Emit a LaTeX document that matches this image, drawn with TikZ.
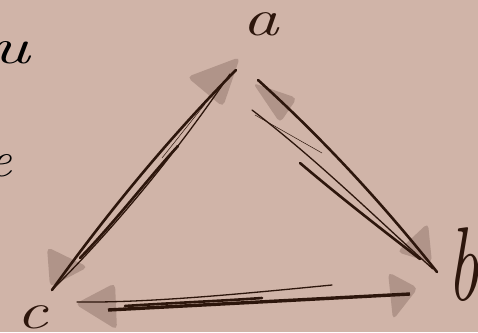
\documentclass[tikz,border=0pt]{standalone}
\usepackage{fontspec}
\usetikzlibrary{calc}
\definecolor{bgcol}{RGB}{208,180,168}
\definecolor{inkcol}{RGB}{45,22,12}
\definecolor{headcol}{RGB}{176,148,137}
\tikzset{
  ink/.style={draw=inkcol, line cap=round, line join=round},
  thick ink/.style={ink, line width=2.6pt},
  thin ink/.style={ink, line width=1.3pt},
  hair ink/.style={ink, line width=0.5pt},
  headshape/.style={fill=headcol, draw=none, rounded corners=5pt},
  letter/.style={text=inkcol, inner sep=0pt, anchor=base, font=\fontsize{52}{52}\selectfont\itshape},
  sideletter/.style={text=black, inner sep=0pt, anchor=base, font=\fontsize{50}{50}\selectfont\itshape}
}
\begin{document}
\begin{tikzpicture}[x=1pt, y=-1pt]
  \fill[bgcol] (0,0) rectangle (478,332);
  \useasboundingbox (0,0) rectangle (478,332);
  \clip (0,0) rectangle (478,332);

  % labels
  \node[letter, xscale=1.4] (a) at (261,35) {a};
  \node[letter, font=\fontsize{70}{70}\selectfont\itshape, yscale=1.5] (b) at (463,300) {b};
  \node[letter, xscale=1.35] (c) at (32,328) {c};
  \node[sideletter, xscale=1.5] (u) at (10,63) {u};
  \node[sideletter] (e) at (1,176) {e};

  % end points of the strokes
  \coordinate (ca-c) at (52,290);
  \coordinate (ca-a) at (236,70);
  \coordinate (ab-a) at (258,80);
  \coordinate (ab-b) at (437,272);
  \coordinate (cb-c) at (77,302);
  \coordinate (cb-b) at (410,294);

  % arrow heads (shaded)
  \path[headshape] (187,77) -- (240,57) -- (223,107) -- cycle;
  \path[headshape] (47,247) -- (88,267) -- (50,287) -- cycle;
  \path[headshape] (253,83) -- (297,98) -- (280,123) -- cycle;
  \path[headshape] (428,223) -- (432,263) -- (397,252) -- cycle;
  \path[headshape] (115,283) -- (117,330) -- (75,304) -- cycle;
  \path[headshape] (388,272) -- (418,288) -- (393,320) -- cycle;

  % edge c -- a
  \draw[thick ink] (ca-c) .. controls (108,212) and (169,138) .. (ca-a);
  \draw[thin ink] ($(ca-c)+(2,-2)$) .. controls (120,222) and (178,150) .. ($(ca-a)+(-6,4)$);
  \draw[thick ink] (80,258) .. controls (115,222) and (150,176) .. (178,146);
  \draw[hair ink] (162,158) -- (205,104);

  % edge a -- b
  \draw[thick ink] (ab-a) .. controls (323,139) and (382,203) .. (ab-b);
  \draw[thin ink] (252,110) .. controls (320,162) and (380,222) .. ($(ab-b)+(-4,-3)$);
  \draw[hair ink] (255,115) -- (322,153);
  \draw[thick ink] (300,163) .. controls (340,197) and (380,228) .. (420,259);

  % edge c -- b
  \draw[ink, line width=3.4pt, line cap=butt] (108,310) -- (cb-b);
  \draw[thin ink] (cb-c) .. controls (150,303) and (250,293) .. (332,285);
  \draw[thick ink] (125,306) .. controls (170,303) and (220,301) .. (262,298);
\end{tikzpicture}
\end{document}
